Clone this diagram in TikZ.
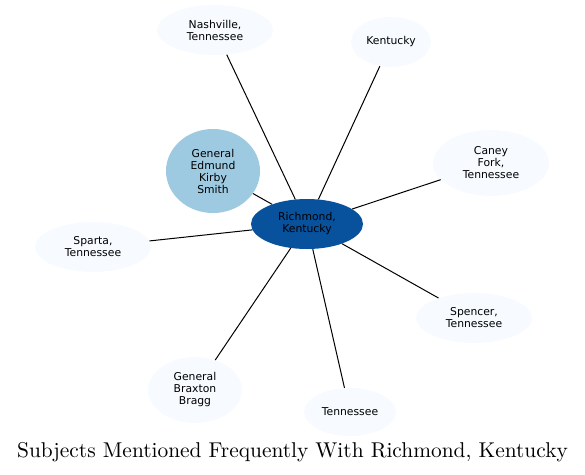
\documentclass[tikz,border=0pt]{standalone}
\usepackage{fontspec}
\newfontfamily\nodefont{DejaVu Sans}
\newfontfamily\titlefont{lmroman10-regular.otf}
\usetikzlibrary{shapes.geometric}
\definecolor{light}{HTML}{F7FBFF}
\definecolor{mid}{HTML}{9ECAE1}
\definecolor{dark}{HTML}{08519C}
\tikzset{
  ent/.style={ellipse, fill=light, inner sep=0pt, align=center,
    font=\nodefont\fontsize{10.8}{12}\selectfont},
  link/.style={line width=1pt, black}
}
\begin{document}
\begin{tikzpicture}[x=1pt,y=-1pt]
\useasboundingbox (0,0) rectangle (585,474);
\node[ent, minimum width=112, minimum height=50, fill=dark] (c) at (307,224) {Richmond,\\Kentucky};
\node[ent, minimum width=94, minimum height=84, fill=mid] (eks) at (213,171) {General\\Edmund\\Kirby\\Smith};
\node[ent, minimum width=116, minimum height=50] (nash) at (215,30) {Nashville,\\Tennessee};
\node[ent, minimum width=80, minimum height=50] (ky) at (391,42) {Kentucky};
\node[ent, minimum width=116, minimum height=66] (caney) at (491,163) {Caney\\Fork,\\Tennessee};
\node[ent, minimum width=116, minimum height=50] (sparta) at (93,247) {Sparta,\\Tennessee};
\node[ent, minimum width=116, minimum height=50] (spencer) at (474,318) {Spencer,\\Tennessee};
\node[ent, minimum width=94, minimum height=66] (bragg) at (195,390) {General\\Braxton\\Bragg};
\node[ent, minimum width=92, minimum height=48] (tn) at (350,412) {Tennessee};
\foreach \n in {eks,nash,ky,caney,sparta,spencer,bragg,tn}
  \draw[link] (c) -- (\n);
\node[font=\titlefont\fontsize{21.4}{24}\selectfont] (title) at (292.5,452) {Subjects Mentioned Frequently With Richmond, Kentucky};
\end{tikzpicture}
\end{document}
